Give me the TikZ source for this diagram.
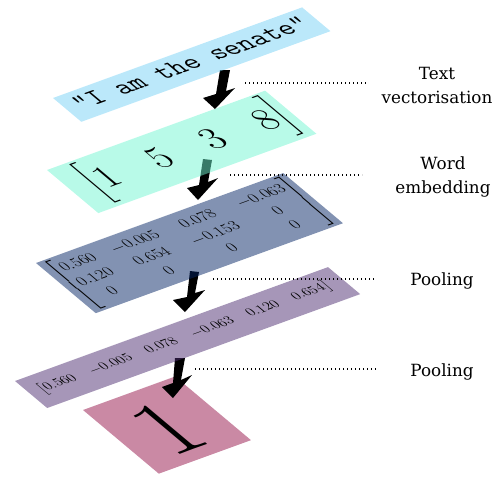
\RequirePackage{fix-cm}
\documentclass[tikz,border=0pt]{standalone}
\usepackage{fontspec}
\usepackage{amsmath}
\newfontfamily\lblfont{DejaVu Serif}
\definecolor{cblue}{RGB}{119,209,245}
\definecolor{cmint}{RGB}{113,245,209}
\definecolor{cslate}{RGB}{5,37,101}
\definecolor{cpurple}{RGB}{77,45,113}
\definecolor{cpink}{RGB}{149,19,73}
\newcommand\bigbrk[1]{{\fontsize{46}{50}\selectfont$#1$}}
\tikzset{
  layerfill/.style={fill opacity=0.5},
  layerat/.style={shift={#1}, cm={0.940,0.342,-0.766,0.643,(0,0)}},
  inlayer/.style={transform shape, inner sep=0pt, text=black},
  lbl/.style={font=\lblfont\fontsize{16.8}{24}\selectfont, align=center, inner sep=0pt},
  guide/.style={line width=1.1pt, dash pattern=on 1.1pt off 2.9pt},
  blockarrow/.style={fill=black},
}
\begin{document}
\begin{tikzpicture}[x=1pt,y=-1pt]
\useasboundingbox (0,0) rectangle (500,477);

% ---- layer 5 (pink) ----
\begin{scope}[layerat={(83,410)}]
  \fill[cpink, layerfill] (0,0) rectangle (98,99);
  \node[inlayer, font=\fontsize{100}{100}\selectfont] (one) at (47,53) {1};
\end{scope}
\fill[blockarrow] (175,358) -- (185,358) -- (181,380) -- (192,375) -- (173,398) -- (162,387) -- (173,383) -- cycle;

% ---- layer 4 (purple) ----
\begin{scope}[layerat={(15,381)}]
  \fill[cpurple, layerfill] (0,0) rectangle (333,42);
  \node[inlayer, font=\fontsize{14.5}{17}\selectfont] (vec) at (164,20)
    {\arraycolsep=8pt$\left[\begin{matrix}0.560 & -0.005 & 0.078 & -0.063 & 0.120 & 0.654\end{matrix}\right]$};
\end{scope}
\fill[blockarrow] (190,271) -- (199,272) -- (195,293) -- (205,290) -- (185,312) -- (173,300) -- (187,297) -- cycle;

% ---- layer 3 (slate) ----
\begin{scope}[layerat={(36,263)}]
  \fill[cslate, layerfill] (0,0) rectangle (263,78);
  \node[inlayer, font=\fontsize{17}{20.4}\selectfont] (emb) at (132,39)
    {\arraycolsep=9pt\renewcommand\arraystretch{1.1}$\left[\begin{matrix}
      0.560 & -0.005 & 0.078 & -0.063\\
      0.120 & 0.654 & -0.153 & 0\\
      0 & 0 & 0 & 0
    \end{matrix}\right]$};
\end{scope}
\fill[blockarrow] (203,159) -- (212,160) -- (208,182) -- (218,178) -- (198,200) -- (187,188) -- (199,185) -- cycle;

% ---- layer 2 (mint) ----
\begin{scope}[layerat={(47,170)}]
  \fill[cmint, layerfill] (0,0) rectangle (232,67);
  \node[inlayer, font=\fontsize{40}{44}\selectfont] (ids) at (122,33)
    {\bigbrk{\bigl[}$1\hspace{38pt}5\hspace{38pt}3\hspace{38pt}8$\bigbrk{\bigr]}};
\end{scope}
\fill[blockarrow] (220,70) -- (230,70) -- (226,91) -- (235,88) -- (215,109) -- (203,98) -- (216,94) -- cycle;

% ---- layer 1 (blue) ----
\begin{scope}[layerat={(53,98)}]
  \fill[cblue, layerfill] (0,0) rectangle (265,37);
  \node[inlayer, font=\ttfamily\fontsize{28}{30}\selectfont] (txt) at (133,16) {“I am the senate"};
\end{scope}

% ---- labels ----
\node[lbl] (l1) at (437,85) {Text\\vectorisation};
\node[lbl] (l2) at (443,177) {Word\\embedding};
\node[lbl] (l3) at (442,281) {Pooling};
\node[lbl] (l4) at (442,372) {Pooling};

\coordinate (g1a) at (245,83);  \coordinate (g1b) at (367,83);
\coordinate (g2a) at (230,175); \coordinate (g2b) at (362,175);
\coordinate (g3a) at (213,279); \coordinate (g3b) at (375,279);
\coordinate (g4a) at (195,369); \coordinate (g4b) at (377,369);
\draw[guide] (g1a) -- (g1b);
\draw[guide] (g2a) -- (g2b);
\draw[guide] (g3a) -- (g3b);
\draw[guide] (g4a) -- (g4b);
\end{tikzpicture}
\end{document}
